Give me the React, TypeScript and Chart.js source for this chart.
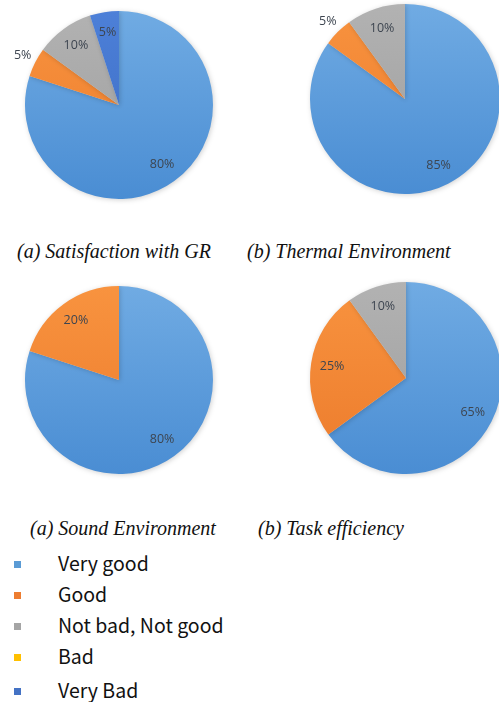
import React, { useEffect, useRef } from "react";
import { Chart, registerables } from "chart.js";

Chart.register(...registerables);

// ---- data ----
const categories = ["Very good", "Good", "Not bad, Not good", "Bad", "Very Bad"];
const satisfactionGR = [80, 5, 10, 0, 5];
const thermalEnvironment = [85, 5, 10, 0, 0];
const soundEnvironment = [80, 20, 0, 0, 0];
const taskEfficiency = [65, 25, 10, 0, 0];
const captions = [
  "(a) Satisfaction with GR",
  "(b) Thermal Environment",
  "(a) Sound Environment",
  "(b) Task efficiency",
];

// ---- styles ----
const topColors = ["#70abe3", "#f8933f", "#b2b2b2", "#ffc83a", "#4d80d8"];
const bottomColors = ["#4a8dd3", "#ec7b2c", "#9d9d9d", "#f2b400", "#3a6ac2"];
const legendColors = ["#5b9bd5", "#ed7d31", "#a5a5a5", "#ffc000", "#4472c4"];

type PieSpec = {
  values: number[];
  cx: number;
  cy: number;
  r: number;
  outside: number[];
};

const W = 240;
const H = 220;

const labelPlugin = {
  id: "pctLabels",
  afterDatasetsDraw(chart: any, _args: any, opts: any) {
    const ctx = chart.ctx;
    const meta = chart.getDatasetMeta(0);
    const data = chart.data.datasets[0].data as number[];
    const outside: number[] = opts.outside || [];
    ctx.save();
    ctx.font = "12.5px 'Open Sans', 'DejaVu Sans', sans-serif";
    ctx.fillStyle = "#3d4550";
    ctx.textAlign = "center";
    ctx.textBaseline = "middle";
    meta.data.forEach((arc: any, i: number) => {
      const v = data[i];
      if (!v) return;
      const p = arc.getProps(["x", "y", "startAngle", "endAngle", "outerRadius"], true);
      const mid = (p.startAngle + p.endAngle) / 2;
      const f = outside.includes(i) ? 1.15 : 0.78;
      const x = p.x + Math.cos(mid) * p.outerRadius * f;
      const y = p.y + Math.sin(mid) * p.outerRadius * f;
      ctx.fillText(v + "%", x, y);
    });
    ctx.restore();
  },
};

const shadowPlugin = {
  id: "pieShadow",
  beforeDatasetDraw(chart: any) {
    const ctx = chart.ctx;
    ctx.save();
    ctx.shadowColor = "rgba(0,0,0,0.18)";
    ctx.shadowBlur = 5;
    ctx.shadowOffsetX = 1;
    ctx.shadowOffsetY = 1;
  },
  afterDatasetDraw(chart: any) {
    chart.ctx.restore();
  },
};

function PieChart({ spec }: { spec: PieSpec }) {
  const ref = useRef<HTMLCanvasElement>(null);
  useEffect(() => {
    if (!ref.current) return;
    const chart = new Chart(ref.current, {
      type: "pie",
      data: {
        labels: categories,
        datasets: [
          {
            data: spec.values,
            borderWidth: 0,
            backgroundColor: (c: any) => {
              const ch = c.chart;
              const area = ch.chartArea;
              if (!area) return legendColors[c.dataIndex];
              const cy = (area.top + area.bottom) / 2;
              const g = ch.ctx.createLinearGradient(0, cy - spec.r, 0, cy + spec.r);
              g.addColorStop(0, topColors[c.dataIndex]);
              g.addColorStop(1, bottomColors[c.dataIndex]);
              return g;
            },
            radius: spec.r,
          } as any,
        ],
      },
      options: {
        animation: false,
        responsive: false,
        maintainAspectRatio: false,
        layout: { padding: 0 },
        plugins: {
          legend: { display: false },
          tooltip: { enabled: false },
          pctLabels: { outside: spec.outside },
        } as any,
      },
      plugins: [shadowPlugin, labelPlugin],
    });
    return () => chart.destroy();
  }, []);
  return (
    <canvas
      ref={ref}
      width={W}
      height={H}
      style={{
        position: "absolute",
        left: spec.cx - W / 2,
        top: spec.cy - H / 2,
        width: W,
        height: H,
        display: "block",
      }}
    />
  );
}

const pies: PieSpec[] = [
  { values: satisfactionGR, cx: 119, cy: 105, r: 94, outside: [1] },
  { values: thermalEnvironment, cx: 405, cy: 99, r: 95, outside: [1] },
  { values: soundEnvironment, cx: 119, cy: 380, r: 94, outside: [] },
  { values: taskEfficiency, cx: 406, cy: 378, r: 96, outside: [] },
];

const captionPos = [
  { left: 17, top: 240 },
  { left: 247, top: 240 },
  { left: 30, top: 517 },
  { left: 258, top: 517 },
];

const legendCenters = [563, 594, 625, 656, 690];

export default function App() {
  return (
    <div
      style={{
        position: "absolute",
        left: 0,
        top: 0,
        width: 499,
        height: 702,
        overflow: "hidden",
        background: "#ffffff",
      }}
    >
      {pies.map((p, i) => (
        <PieChart key={i} spec={p} />
      ))}
      {captions.map((t, i) => (
        <div
          key={t}
          style={{
            position: "absolute",
            left: captionPos[i].left,
            top: captionPos[i].top,
            fontFamily: "'Liberation Serif', 'DejaVu Serif', serif",
            fontStyle: "italic",
            fontSize: 20,
            lineHeight: "22px",
            color: "#111",
            whiteSpace: "nowrap",
          }}
        >
          {t}
        </div>
      ))}
      {categories.map((c, i) => (
        <React.Fragment key={c}>
          <div
            style={{
              position: "absolute",
              left: 14,
              top: legendCenters[i] - 2,
              width: 7,
              height: 7,
              background: legendColors[i],
            }}
          />
          <div
            style={{
              position: "absolute",
              left: 58,
              top: legendCenters[i] - 12,
              fontFamily: "'Noto Sans CJK KR', 'Noto Sans', sans-serif",
              fontSize: 19.5,
              lineHeight: "24px",
              color: "#111",
              whiteSpace: "nowrap",
            }}
          >
            {c}
          </div>
        </React.Fragment>
      ))}
    </div>
  );
}
